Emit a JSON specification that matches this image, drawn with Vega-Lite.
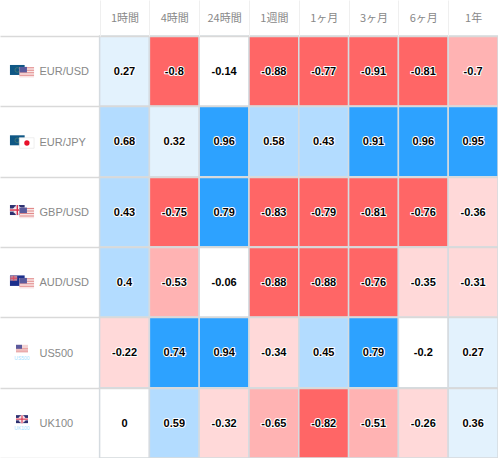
{
 "$schema":"https://vega.github.io/schema/vega-lite/v6.json",
 "width":498,"height":422,
 "autosize":{"type":"none"},
 "padding":{"top":36,"left":0,"right":0,"bottom":0},
 "background":"white",
 "config":{"view":{"stroke":null}},
 "datasets":{
  "cells":[
   {"pair":"EUR/USD","period":"1時間","value":0.27},{"pair":"EUR/USD","period":"4時間","value":-0.8},{"pair":"EUR/USD","period":"24時間","value":-0.14},{"pair":"EUR/USD","period":"1週間","value":-0.88},{"pair":"EUR/USD","period":"1ヶ月","value":-0.77},{"pair":"EUR/USD","period":"3ヶ月","value":-0.91},{"pair":"EUR/USD","period":"6ヶ月","value":-0.81},{"pair":"EUR/USD","period":"1年","value":-0.7},
   {"pair":"EUR/JPY","period":"1時間","value":0.68},{"pair":"EUR/JPY","period":"4時間","value":0.32},{"pair":"EUR/JPY","period":"24時間","value":0.96},{"pair":"EUR/JPY","period":"1週間","value":0.58},{"pair":"EUR/JPY","period":"1ヶ月","value":0.43},{"pair":"EUR/JPY","period":"3ヶ月","value":0.91},{"pair":"EUR/JPY","period":"6ヶ月","value":0.96},{"pair":"EUR/JPY","period":"1年","value":0.95},
   {"pair":"GBP/USD","period":"1時間","value":0.43},{"pair":"GBP/USD","period":"4時間","value":-0.75},{"pair":"GBP/USD","period":"24時間","value":0.79},{"pair":"GBP/USD","period":"1週間","value":-0.83},{"pair":"GBP/USD","period":"1ヶ月","value":-0.79},{"pair":"GBP/USD","period":"3ヶ月","value":-0.81},{"pair":"GBP/USD","period":"6ヶ月","value":-0.76},{"pair":"GBP/USD","period":"1年","value":-0.36},
   {"pair":"AUD/USD","period":"1時間","value":0.4},{"pair":"AUD/USD","period":"4時間","value":-0.53},{"pair":"AUD/USD","period":"24時間","value":-0.06},{"pair":"AUD/USD","period":"1週間","value":-0.88},{"pair":"AUD/USD","period":"1ヶ月","value":-0.88},{"pair":"AUD/USD","period":"3ヶ月","value":-0.76},{"pair":"AUD/USD","period":"6ヶ月","value":-0.35},{"pair":"AUD/USD","period":"1年","value":-0.31},
   {"pair":"US500","period":"1時間","value":-0.22},{"pair":"US500","period":"4時間","value":0.74},{"pair":"US500","period":"24時間","value":0.94},{"pair":"US500","period":"1週間","value":-0.34},{"pair":"US500","period":"1ヶ月","value":0.45},{"pair":"US500","period":"3ヶ月","value":0.79},{"pair":"US500","period":"6ヶ月","value":-0.2},{"pair":"US500","period":"1年","value":0.27},
   {"pair":"UK100","period":"1時間","value":0},{"pair":"UK100","period":"4時間","value":0.59},{"pair":"UK100","period":"24時間","value":-0.32},{"pair":"UK100","period":"1週間","value":-0.65},{"pair":"UK100","period":"1ヶ月","value":-0.82},{"pair":"UK100","period":"3ヶ月","value":-0.51},{"pair":"UK100","period":"6ヶ月","value":-0.26},{"pair":"UK100","period":"1年","value":0.36}
  ],
  "eur":[{"pair":"EUR/USD"},{"pair":"EUR/JPY"}],
  "jpy":[{"pair":"EUR/JPY"}],
  "gbp":[{"pair":"GBP/USD"}],
  "aud":[{"pair":"AUD/USD"}],
  "usd":[{"pair":"EUR/USD"},{"pair":"GBP/USD"},{"pair":"AUD/USD"}],
  "us500":[{"pair":"US500","tag":"US500"}],
  "uk100":[{"pair":"UK100","tag":"UK100"}]
 },
 "data":{"name":"cells"},
 "encoding":{
  "x":{"field":"period","type":"nominal","sort":null,
   "scale":{"domain":["a","b","1時間","4時間","24時間","1週間","1ヶ月","3ヶ月","6ヶ月","1年"],"paddingInner":0,"paddingOuter":0},
   "axis":{"orient":"top","title":null,"values":["1時間","4時間","24時間","1週間","1ヶ月","3ヶ月","6ヶ月","1年"],"domain":false,"tickBand":"extent","tickSize":36,"tickColor":"#efefef","tickWidth":1,"labelAngle":0,"labelPadding":-18,"labelBaseline":"middle","labelAlign":"center","labelFont":"Noto Sans CJK JP","labelFontSize":11,"labelColor":"#888888"}},
  "y":{"field":"pair","type":"nominal","sort":null,
   "scale":{"domain":["EUR/USD","EUR/JPY","GBP/USD","AUD/USD","US500","UK100"],"paddingInner":0,"paddingOuter":0},
   "axis":{"title":null,"domain":false,"ticks":false,"tickSize":0,"labelPadding":-39,"labelOffset":0.7,"labelAlign":"left","labelFont":"Liberation Sans","labelFontSize":11,"labelColor":"#888888","grid":true,"tickBand":"extent","gridColor":"#d9d9d9","gridWidth":1.5}}
 },
 "layer":[
  {"mark":{"type":"rect","stroke":"#d5dbe0","strokeWidth":1.5},
   "encoding":{"color":{"field":"value","type":"quantitative","legend":null,
     "scale":{"type":"threshold","domain":[-0.7,-0.5,-0.2,0.2,0.4,0.7],"range":["#ff6666","#ffb3b3","#ffd9d9","#ffffff","#e3f2fd","#b3dcff","#2da2ff"]}}}},
  {"mark":{"type":"text","font":"Liberation Sans","fontWeight":"bold","fontSize":11,"dy":0.7,"stroke":"white","strokeWidth":2,"strokeJoin":"round","fill":"white"},
   "encoding":{"text":{"field":"value","type":"nominal"}}},
  {"mark":{"type":"text","font":"Liberation Sans","fontWeight":"bold","fontSize":11,"dy":0.7,"fill":"#000000"},
   "encoding":{"text":{"field":"value","type":"nominal"}}},

  {"data":{"name":"eur"},"mark":{"type":"rect","width":14.7,"height":10,"xOffset":-7.6,"yOffset":-1.2,"fill":"#0f5785"},"encoding":{"x":{"datum":"a"}}},
  {"data":{"name":"eur"},"mark":{"type":"point","shape":"circle","size":22,"filled":false,"stroke":"#5f8a6a","strokeWidth":0.8,"xOffset":-7.6,"yOffset":-1.2},"encoding":{"x":{"datum":"a"}}},

  {"data":{"name":"jpy"},"mark":{"type":"rect","width":14.7,"height":10.5,"xOffset":1.8,"yOffset":1.5,"fill":"#ffffff","stroke":"#e8e8e8","strokeWidth":0.7},"encoding":{"x":{"datum":"a"}}},
  {"data":{"name":"jpy"},"mark":{"type":"point","shape":"circle","size":28,"filled":true,"opacity":1,"color":"#e8102a","xOffset":2,"yOffset":1.5},"encoding":{"x":{"datum":"a"}}},

  {"data":{"name":"gbp"},"mark":{"type":"rect","width":14.7,"height":10,"xOffset":-7.6,"yOffset":-1.8,"fill":"#2c3070"},"encoding":{"x":{"datum":"a"}}},
  {"data":{"name":"gbp"},"mark":{"type":"point","shape":"cross","size":70,"filled":true,"opacity":1,"angle":40,"color":"#f0d8e0","xOffset":-7.6,"yOffset":-1.8},"encoding":{"x":{"datum":"a"}}},
  {"data":{"name":"gbp"},"mark":{"type":"rect","width":14.7,"height":3,"xOffset":-7.6,"yOffset":-1.8,"fill":"#ffffff"},"encoding":{"x":{"datum":"a"}}},
  {"data":{"name":"gbp"},"mark":{"type":"rect","width":3,"height":10,"xOffset":-7.6,"yOffset":-1.8,"fill":"#ffffff"},"encoding":{"x":{"datum":"a"}}},
  {"data":{"name":"gbp"},"mark":{"type":"rect","width":14.7,"height":1.5,"xOffset":-7.6,"yOffset":-1.8,"fill":"#d9344f"},"encoding":{"x":{"datum":"a"}}},
  {"data":{"name":"gbp"},"mark":{"type":"rect","width":1.5,"height":10,"xOffset":-7.6,"yOffset":-1.8,"fill":"#d9344f"},"encoding":{"x":{"datum":"a"}}},

  {"data":{"name":"aud"},"mark":{"type":"rect","width":14.7,"height":10.5,"xOffset":-7.6,"yOffset":-1.5,"fill":"#1c2f8c"},"encoding":{"x":{"datum":"a"}}},
  {"data":{"name":"aud"},"mark":{"type":"rect","width":7,"height":5,"xOffset":-11.2,"yOffset":-4,"fill":"#b8889c"},"encoding":{"x":{"datum":"a"}}},
  {"data":{"name":"aud"},"mark":{"type":"rect","width":7,"height":1,"xOffset":-11.2,"yOffset":-4,"fill":"#e04a60"},"encoding":{"x":{"datum":"a"}}},
  {"data":{"name":"aud"},"mark":{"type":"rect","width":1,"height":5,"xOffset":-11.2,"yOffset":-4,"fill":"#e04a60"},"encoding":{"x":{"datum":"a"}}},

  {"data":{"name":"usd"},"mark":{"type":"rect","width":14.7,"height":10.7,"xOffset":1.8,"yOffset":1.1,"fill":"#f8e4e4"},"encoding":{"x":{"datum":"a"}}},
  {"data":{"name":"usd"},"mark":{"type":"rect","width":14.7,"height":1,"xOffset":1.8,"yOffset":-3.4,"fill":"#e28a8a"},"encoding":{"x":{"datum":"a"}}},
  {"data":{"name":"usd"},"mark":{"type":"rect","width":14.7,"height":1,"xOffset":1.8,"yOffset":-0.9,"fill":"#e28a8a"},"encoding":{"x":{"datum":"a"}}},
  {"data":{"name":"usd"},"mark":{"type":"rect","width":14.7,"height":1,"xOffset":1.8,"yOffset":1.6,"fill":"#e28a8a"},"encoding":{"x":{"datum":"a"}}},
  {"data":{"name":"usd"},"mark":{"type":"rect","width":14.7,"height":1,"xOffset":1.8,"yOffset":4.1,"fill":"#e28a8a"},"encoding":{"x":{"datum":"a"}}},
  {"data":{"name":"usd"},"mark":{"type":"rect","width":7.5,"height":5.5,"xOffset":-1.7,"yOffset":-1.5,"fill":"#5a5a9c"},"encoding":{"x":{"datum":"a"}}},

  {"data":{"name":"us500"},"mark":{"type":"rect","width":12,"height":8,"xOffset":-2.9,"yOffset":-3.7,"fill":"#f3d4d4"},"encoding":{"x":{"datum":"a"}}},
  {"data":{"name":"us500"},"mark":{"type":"rect","width":12,"height":1,"xOffset":-2.9,"yOffset":-3.7,"fill":"#e59090"},"encoding":{"x":{"datum":"a"}}},
  {"data":{"name":"us500"},"mark":{"type":"rect","width":12,"height":1,"xOffset":-2.9,"yOffset":-1.4,"fill":"#e59090"},"encoding":{"x":{"datum":"a"}}},
  {"data":{"name":"us500"},"mark":{"type":"rect","width":6,"height":4,"xOffset":-5.9,"yOffset":-5.7,"fill":"#5a5a9c"},"encoding":{"x":{"datum":"a"}}},

  {"data":{"name":"uk100"},"mark":{"type":"rect","width":12,"height":8,"xOffset":-2.9,"yOffset":-3.7,"fill":"#2c3070"},"encoding":{"x":{"datum":"a"}}},
  {"data":{"name":"uk100"},"mark":{"type":"point","shape":"cross","size":50,"filled":true,"opacity":1,"angle":40,"color":"#f0d8e0","xOffset":-2.9,"yOffset":-3.7},"encoding":{"x":{"datum":"a"}}},
  {"data":{"name":"uk100"},"mark":{"type":"rect","width":12,"height":2.4,"xOffset":-2.9,"yOffset":-3.7,"fill":"#ffffff"},"encoding":{"x":{"datum":"a"}}},
  {"data":{"name":"uk100"},"mark":{"type":"rect","width":2.4,"height":8,"xOffset":-2.9,"yOffset":-3.7,"fill":"#ffffff"},"encoding":{"x":{"datum":"a"}}},
  {"data":{"name":"uk100"},"mark":{"type":"rect","width":12,"height":1.2,"xOffset":-2.9,"yOffset":-3.7,"fill":"#d9344f"},"encoding":{"x":{"datum":"a"}}},
  {"data":{"name":"uk100"},"mark":{"type":"rect","width":1.2,"height":8,"xOffset":-2.9,"yOffset":-3.7,"fill":"#d9344f"},"encoding":{"x":{"datum":"a"}}},

  {"data":{"name":"us500"},"mark":{"type":"text","font":"Liberation Sans","fontSize":5,"fill":"#9fdfff","xOffset":-2.9,"yOffset":5.4},"encoding":{"x":{"datum":"a"},"text":{"field":"tag"}}},
  {"data":{"name":"uk100"},"mark":{"type":"text","font":"Liberation Sans","fontSize":5,"fill":"#9fdfff","xOffset":-2.9,"yOffset":5.4},"encoding":{"x":{"datum":"a"},"text":{"field":"tag"}}}
 ]
}
